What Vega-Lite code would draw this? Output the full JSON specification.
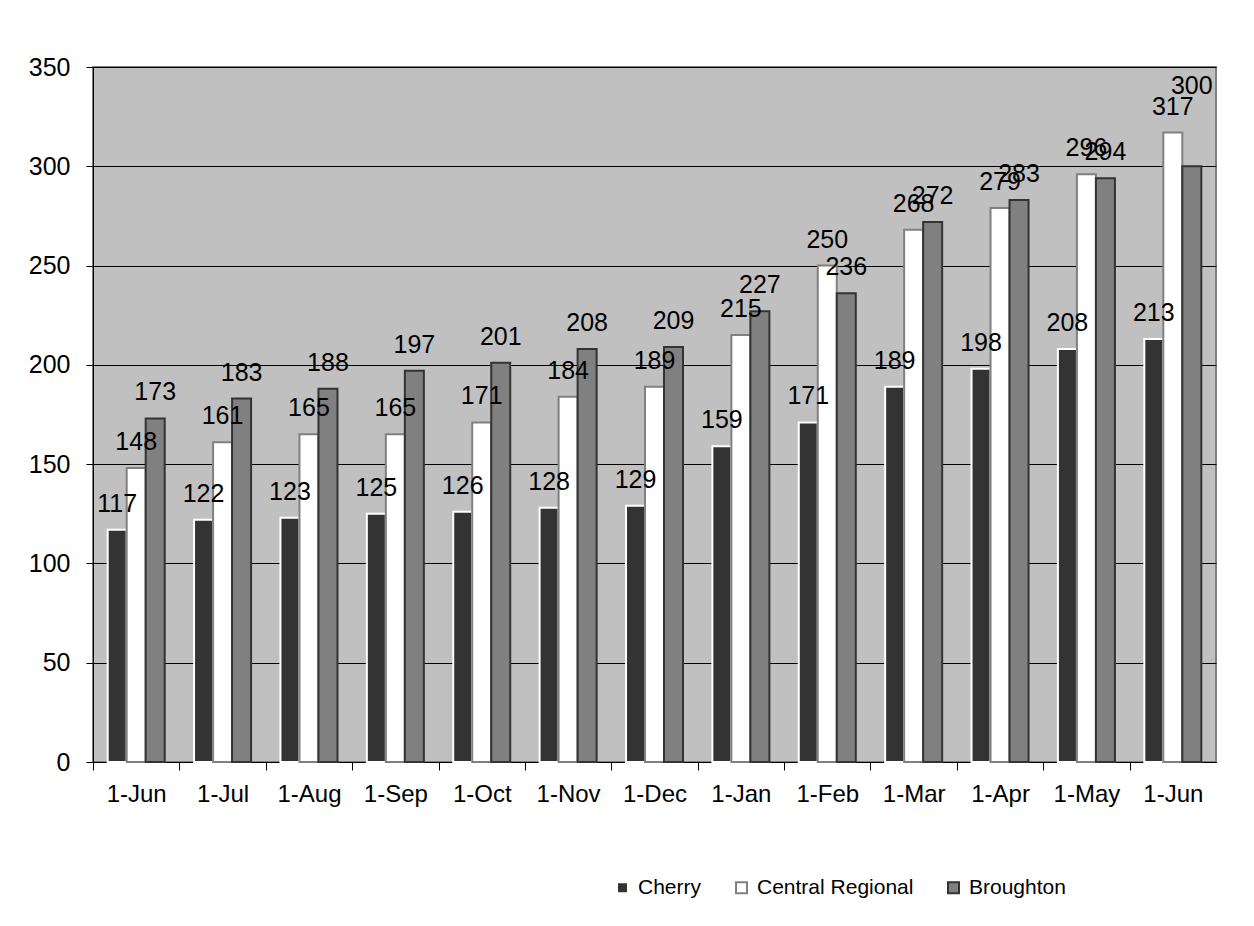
{
  "$schema": "https://vega.github.io/schema/vega-lite/v6.json",
  "width": 1123,
  "height": 695,
  "autosize": {"type": "none"},
  "padding": {"left": 93, "top": 67, "right": 38, "bottom": 164},
  "background": "white",
  "config": {
    "font": "Liberation Sans",
    "view": {"fill": "#C0C0C0", "stroke": "#808080", "strokeWidth": 2}
  },
  "data": {
    "values": [
      {"month": "Jun 2008", "series": "Cherry", "value": 117},
      {"month": "Jun 2008", "series": "Central Regional", "value": 148},
      {"month": "Jun 2008", "series": "Broughton", "value": 173},
      {"month": "Jul 2008", "series": "Cherry", "value": 122},
      {"month": "Jul 2008", "series": "Central Regional", "value": 161},
      {"month": "Jul 2008", "series": "Broughton", "value": 183},
      {"month": "Aug 2008", "series": "Cherry", "value": 123},
      {"month": "Aug 2008", "series": "Central Regional", "value": 165},
      {"month": "Aug 2008", "series": "Broughton", "value": 188},
      {"month": "Sep 2008", "series": "Cherry", "value": 125},
      {"month": "Sep 2008", "series": "Central Regional", "value": 165},
      {"month": "Sep 2008", "series": "Broughton", "value": 197},
      {"month": "Oct 2008", "series": "Cherry", "value": 126},
      {"month": "Oct 2008", "series": "Central Regional", "value": 171},
      {"month": "Oct 2008", "series": "Broughton", "value": 201},
      {"month": "Nov 2008", "series": "Cherry", "value": 128},
      {"month": "Nov 2008", "series": "Central Regional", "value": 184},
      {"month": "Nov 2008", "series": "Broughton", "value": 208},
      {"month": "Dec 2008", "series": "Cherry", "value": 129},
      {"month": "Dec 2008", "series": "Central Regional", "value": 189},
      {"month": "Dec 2008", "series": "Broughton", "value": 209},
      {"month": "Jan 2009", "series": "Cherry", "value": 159},
      {"month": "Jan 2009", "series": "Central Regional", "value": 215},
      {"month": "Jan 2009", "series": "Broughton", "value": 227},
      {"month": "Feb 2009", "series": "Cherry", "value": 171},
      {"month": "Feb 2009", "series": "Central Regional", "value": 250},
      {"month": "Feb 2009", "series": "Broughton", "value": 236},
      {"month": "Mar 2009", "series": "Cherry", "value": 189},
      {"month": "Mar 2009", "series": "Central Regional", "value": 268},
      {"month": "Mar 2009", "series": "Broughton", "value": 272},
      {"month": "Apr 2009", "series": "Cherry", "value": 198},
      {"month": "Apr 2009", "series": "Central Regional", "value": 279},
      {"month": "Apr 2009", "series": "Broughton", "value": 283},
      {"month": "May 2009", "series": "Cherry", "value": 208},
      {"month": "May 2009", "series": "Central Regional", "value": 296},
      {"month": "May 2009", "series": "Broughton", "value": 294},
      {"month": "Jun 2009", "series": "Cherry", "value": 213},
      {"month": "Jun 2009", "series": "Central Regional", "value": 317},
      {"month": "Jun 2009", "series": "Broughton", "value": 300}
    ]
  },
  "layer": [
    {
      "mark": {"type": "bar", "strokeWidth": 2},
      "encoding": {
        "x": {
          "field": "month",
          "type": "nominal",
          "sort": null,
          "scale": {"paddingInner": 0.34, "paddingOuter": 0.17},
          "axis": {
            "title": null,
            "labelExpr": "'1-' + slice(datum.value, 0, 3)",
            "labelAngle": 0,
            "labelFontSize": 24,
            "labelColor": "black",
            "labelPadding": 12,
            "tickOffset": -43.2,
            "labelOffset": 43.2,
            "tickColor": "black",
            "tickSize": 8,
            "domainColor": "black",
            "grid": false
          }
        },
        "xOffset": {"field": "series", "type": "nominal", "sort": ["Cherry", "Central Regional", "Broughton"]},
        "y": {
          "field": "value",
          "type": "quantitative",
          "scale": {"domain": [0, 350], "nice": false},
          "axis": {
            "title": null,
            "values": [0, 50, 100, 150, 200, 250, 300, 350],
            "labelFontSize": 25,
            "labelColor": "black",
            "labelPadding": 16,
            "tickColor": "black",
            "tickSize": 7,
            "domainColor": "black",
            "gridColor": "black",
            "gridOpacity": 1
          }
        },
        "fill": {
          "field": "series",
          "type": "nominal",
          "sort": ["Cherry", "Central Regional", "Broughton"],
          "scale": {"range": ["#333333", "#FFFFFF", "#808080"]},
          "legend": {
            "title": null,
            "orient": "none",
            "direction": "horizontal",
            "legendX": 519,
            "legendY": 810,
            "symbolType": "square",
            "symbolSize": 121,
            "symbolStrokeWidth": 2,
            "labelFontSize": 21,
            "labelColor": "black",
            "labelOffset": 5,
            "columnPadding": 29,
            "encode": {
              "symbols": {
                "update": {
                  "stroke": {"scale": "stroke", "field": "value"},
                  "fillOpacity": {"value": 1},
                  "strokeOpacity": {"value": 1}
                }
              }
            }
          }
        },
        "stroke": {
          "field": "series",
          "type": "nominal",
          "sort": ["Cherry", "Central Regional", "Broughton"],
          "scale": {"range": ["#FFFFFF", "#808080", "#333333"]},
          "legend": null
        }
      }
    },
    {
      "transform": [{"filter": "!(datum.month == 'Jun 2009' && datum.series == 'Broughton')"}],
      "mark": {"type": "text", "fontSize": 25, "color": "black", "baseline": "alphabetic", "dy": -18},
      "encoding": {
        "x": {"field": "month", "type": "nominal", "sort": null},
        "xOffset": {"field": "series", "type": "nominal", "sort": ["Cherry", "Central Regional", "Broughton"]},
        "y": {"field": "value", "type": "quantitative"},
        "text": {"field": "value", "type": "quantitative"}
      }
    },
    {
      "transform": [{"filter": "datum.month == 'Jun 2009' && datum.series == 'Broughton'"}],
      "mark": {"type": "text", "fontSize": 25, "color": "black", "baseline": "alphabetic", "dy": -72},
      "encoding": {
        "x": {"field": "month", "type": "nominal", "sort": null},
        "xOffset": {"field": "series", "type": "nominal", "sort": ["Cherry", "Central Regional", "Broughton"]},
        "y": {"field": "value", "type": "quantitative"},
        "text": {"field": "value", "type": "quantitative"}
      }
    }
  ]
}
